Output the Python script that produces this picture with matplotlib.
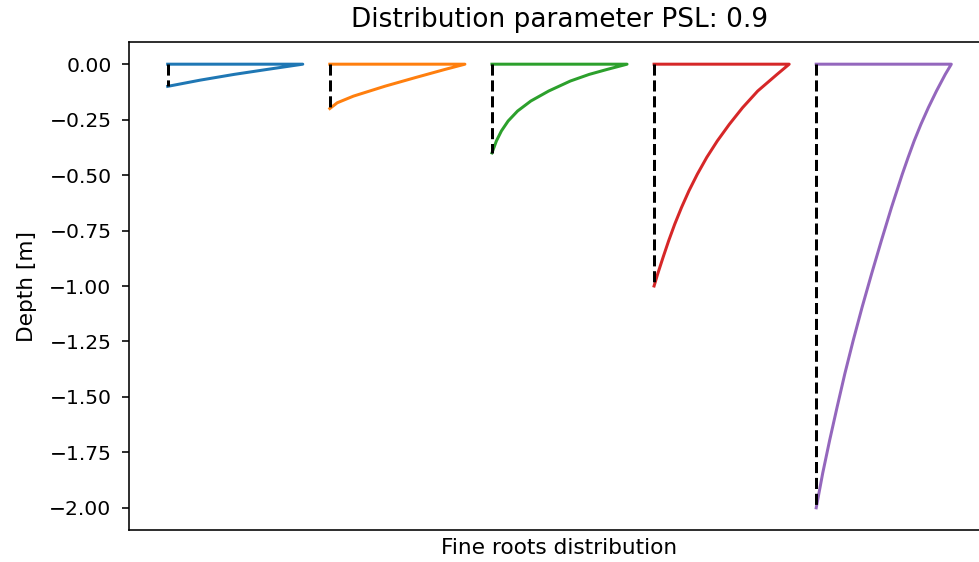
import matplotlib
matplotlib.use("Agg")
import matplotlib.pyplot as plt

# rooting depth of each profile [m]
root_depths = [0.1, 0.2, 0.4, 1.0, 2.0]

# relative fine-root fraction (1 at the surface, 0 at the rooting depth)
# sampled along depth for each profile
blue_depth = [0.0, -0.024, -0.046, -0.072, -0.1]
blue_frac = [1.0, 0.732, 0.492, 0.24, 0.0]

orange_depth = [0.0, -0.024, -0.061, -0.099, -0.144, -0.174, -0.2]
orange_frac = [1.0, 0.85, 0.63, 0.41, 0.175, 0.055, 0.0]

green_depth = [0.0, -0.024, -0.046, -0.076, -0.121, -0.166, -0.211, -0.256,
               -0.301, -0.346, -0.4]
green_frac = [1.0, 0.85, 0.72, 0.58, 0.42, 0.288, 0.19, 0.12,
              0.07, 0.033, 0.0]

red_depth = [0.0, -0.046, -0.121, -0.196, -0.271, -0.346, -0.420, -0.496,
             -0.571, -0.646, -0.721, -0.796, -0.870, -0.945, -1.0]
red_frac = [1.0, 0.91, 0.767, 0.655, 0.557, 0.468, 0.39, 0.32,
            0.258, 0.203, 0.153, 0.108, 0.067, 0.027, 0.0]

purple_depth = [0.0, -0.046, -0.121, -0.196, -0.271, -0.346, -0.421, -0.496,
                -0.646, -0.796, -0.945, -1.095, -1.245, -1.395, -1.545,
                -1.694, -1.844, -2.0]
purple_frac = [1.0, 0.955, 0.89, 0.83, 0.775, 0.725, 0.68, 0.637,
               0.557, 0.482, 0.41, 0.34, 0.274, 0.212, 0.155,
               0.1, 0.048, 0.0]

profiles = [
    (blue_depth, blue_frac),
    (orange_depth, orange_frac),
    (green_depth, green_frac),
    (red_depth, red_frac),
    (purple_depth, purple_frac),
]
spacing = 1.2

fig = plt.figure(figsize=(979 / 144, 562 / 144), dpi=144)
ax = fig.add_axes([128.5 / 979, 32 / 562, 862 / 979, 488 / 562])

for i, ((depth, frac), d) in enumerate(zip(profiles, root_depths)):
    x0 = i * spacing
    xs = [x0] + [x0 + f for f in frac]
    ys = [0.0] + depth
    ax.plot(xs, ys)
    ax.plot([x0, x0], [0.0, -d], 'k--')

ax.set_xticks([])
ax.tick_params(axis='y', labelsize=10.1, pad=5)
ax.set_ylabel('Depth [m]', fontsize=10.8, labelpad=6)
ax.set_xlabel('Fine roots distribution', fontsize=10.8)
ax.set_title('Distribution parameter PSL: 0.9', fontsize=13.2, pad=7.5)

fig.savefig('out.png', dpi=144)
